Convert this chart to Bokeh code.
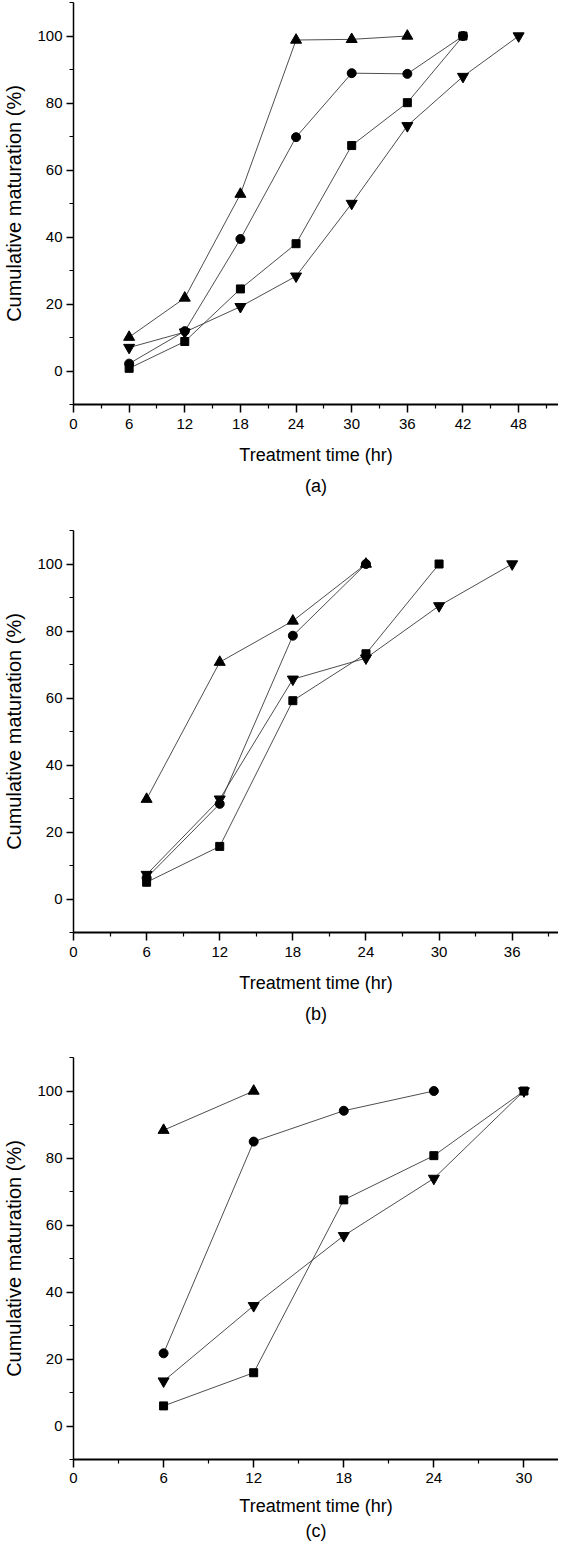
from bokeh.plotting import figure
from bokeh.layouts import column
from bokeh.models import FixedTicker, Range1d, Title
from bokeh.embed import file_html
from bokeh.resources import INLINE

# ---------------- data ----------------
# panel (a)
a_x_tri = [6, 12, 18, 24, 30, 36]
a_tri = [10.1, 21.8, 52.8, 98.8, 99.0, 100.0]
a_x_cir = [6, 12, 18, 24, 30, 36, 42]
a_cir = [2.2, 11.9, 39.4, 69.8, 88.9, 88.7, 100.0]
a_x_sq = [6, 12, 18, 24, 30, 36, 42]
a_sq = [0.8, 8.8, 24.5, 38.0, 67.3, 80.1, 100.0]
a_x_inv = [6, 12, 18, 24, 30, 36, 42, 48]
a_inv = [7.0, 11.6, 19.2, 28.3, 50.0, 73.2, 87.9, 100.0]
a_xticks = [0, 6, 12, 18, 24, 30, 36, 42, 48]

# panel (b)
b_x_tri = [6, 12, 18, 24]
b_tri = [29.8, 70.7, 83.0, 100.0]
b_x_cir = [6, 12, 18, 24]
b_cir = [6.3, 28.4, 78.6, 100.0]
b_x_sq = [6, 12, 18, 24, 30]
b_sq = [5.0, 15.7, 59.2, 73.2, 100.0]
b_x_inv = [6, 12, 18, 24, 30, 36]
b_inv = [7.3, 29.8, 65.6, 71.9, 87.5, 100.0]
b_xticks = [0, 6, 12, 18, 24, 30, 36]

# panel (c)
c_x_tri = [6, 12]
c_tri = [88.3, 100.0]
c_x_cir = [6, 12, 18, 24]
c_cir = [21.7, 84.9, 94.1, 100.0]
c_x_sq = [6, 12, 18, 24, 30]
c_sq = [6.0, 15.9, 67.5, 80.7, 100.0]
c_x_inv = [6, 12, 18, 24, 30]
c_inv = [13.4, 35.9, 56.8, 73.9, 100.0]
c_xticks = [0, 6, 12, 18, 24, 30]

y_ticks = [0, 20, 40, 60, 80, 100]
y_minor = [-10, 10, 30, 50, 70, 90, 110]

x_label = "Treatment time (hr)"
y_label = "Cumulative maturation (%)"

FONT = "Liberation Sans"


def make_panel(series, x_end, xticks, left, top, height, bottom, tag,
               s_tick=6, s_label=13, s_title=12):
    p = figure(width=558, height=height, output_backend="svg",
               toolbar_location=None,
               x_range=Range1d(0, x_end), y_range=Range1d(-10, 110),
               min_border_left=left, min_border_right=0,
               min_border_top=top, min_border_bottom=bottom)
    p.outline_line_color = None
    p.grid.visible = False
    p.background_fill_color = "white"
    p.border_fill_color = "white"

    minor_x = [v for v in range(3, int(x_end) + 1, 6)]
    p.xaxis.ticker = FixedTicker(ticks=xticks, minor_ticks=minor_x)
    p.yaxis.ticker = FixedTicker(ticks=y_ticks, minor_ticks=y_minor)

    for ax in (p.xaxis, p.yaxis):
        ax.axis_line_color = "black"
        ax.major_tick_line_color = "black"
        ax.minor_tick_line_color = "black"
        ax.major_tick_in = 0
        ax.minor_tick_in = 0
        ax.major_label_text_font = FONT
        ax.major_label_text_font_size = "15px"
        ax.major_label_text_color = "black"
        ax.axis_label_text_font = FONT
        ax.axis_label_text_font_style = "normal"
        ax.axis_label_text_color = "black"

    p.xaxis.axis_line_width = 2
    p.xaxis.major_tick_line_width = 1.5
    p.xaxis.minor_tick_line_width = 1.2
    p.xaxis.major_tick_out = 8
    p.xaxis.minor_tick_out = 4
    p.xaxis.major_label_standoff = s_tick
    p.xaxis.axis_label = x_label
    p.xaxis.axis_label_text_font_size = "18px"
    p.xaxis.axis_label_standoff = s_label

    p.yaxis.axis_line_width = 1.5
    p.yaxis.major_tick_line_width = 1.5
    p.yaxis.minor_tick_line_width = 1.2
    p.yaxis.major_tick_out = 7
    p.yaxis.minor_tick_out = 4
    p.yaxis.major_label_standoff = 4
    p.yaxis.axis_label = y_label
    p.yaxis.axis_label_text_font_size = "20px"
    p.yaxis.axis_label_standoff = 9

    (xt, yt), (xc, yc), (xs, ys), (xi, yi) = series
    for xx, yy in series:
        p.line(xx, yy, line_color="#3a3a3a", line_width=0.9)
    p.scatter(xt, yt, marker="triangle", size=11, color="black")
    p.scatter(xc, yc, marker="circle", size=9, color="black")
    p.scatter(xs, ys, marker="square", size=8, color="black")
    p.scatter(xi, yi, marker="inverted_triangle", size=11, color="black")

    t = Title(text=tag, align="center", text_font=FONT,
              text_font_size="18px", text_font_style="normal",
              text_color="black", standoff=s_title)
    p.add_layout(t, "below")
    return p


pa = make_panel([(a_x_tri, a_tri), (a_x_cir, a_cir), (a_x_sq, a_sq), (a_x_inv, a_inv)],
                52.3, a_xticks, 64, 2, 528, 124, "(a)")
pb = make_panel([(b_x_tri, b_tri), (b_x_cir, b_cir), (b_x_sq, b_sq), (b_x_inv, b_inv)],
                39.8, b_xticks, 66, 2, 527, 123, "(b)")
pc = make_panel([(c_x_tri, c_tri), (c_x_cir, c_cir), (c_x_sq, c_sq), (c_x_inv, c_inv)],
                32.3, c_xticks, 67, 2, 488, 84, "(c)",
                s_tick=5, s_label=10, s_title=0)

layout = column(pa, pb, pc, spacing=0)
open("out.html", "w").write(file_html(layout, INLINE, "Cumulative maturation"))
